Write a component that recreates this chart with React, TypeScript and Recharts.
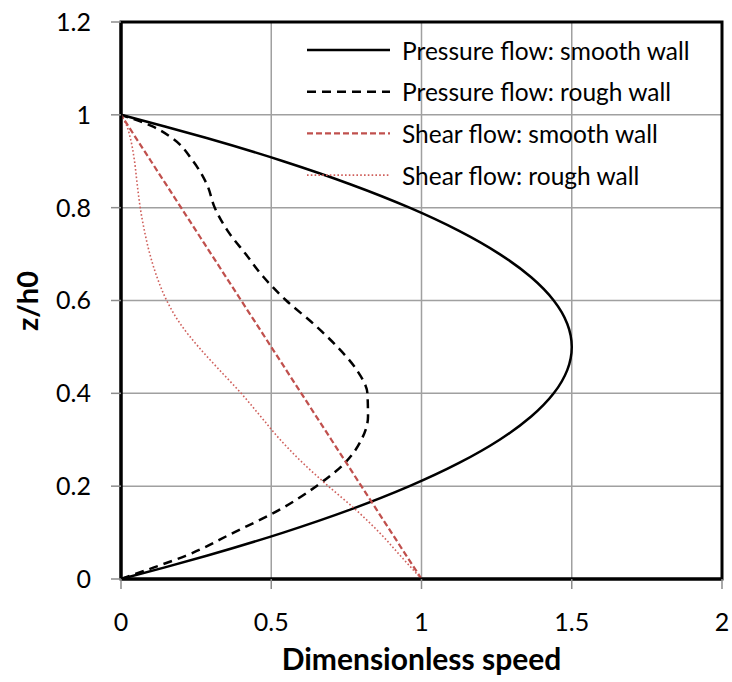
import React from 'react';
import { LineChart, Line, XAxis, YAxis, CartesianGrid, Legend, ReferenceArea } from 'recharts';

// Height ratio z/h0 (shared sampling levels)
const Z_LEVELS = [0, 0.025, 0.05, 0.1, 0.15, 0.2, 0.25, 0.3, 0.35, 0.4, 0.45, 0.5, 0.55, 0.6, 0.65, 0.7, 0.75, 0.8, 0.85, 0.9, 0.95, 0.975, 1];

// Dimensionless speed for each series, read at the levels above
const PRESSURE_SMOOTH = [0, 0.146, 0.285, 0.54, 0.765, 0.96, 1.125, 1.26, 1.365, 1.44, 1.485, 1.5, 1.485, 1.44, 1.365, 1.26, 1.125, 0.96, 0.765, 0.54, 0.285, 0.146, 0];
const PRESSURE_ROUGH = [0, 0.11, 0.215, 0.375, 0.53, 0.65, 0.745, 0.8, 0.822, 0.82, 0.785, 0.72, 0.64, 0.55, 0.475, 0.415, 0.355, 0.312, 0.286, 0.24, 0.17, 0.105, 0];
const SHEAR_SMOOTH = [1, 0.975, 0.95, 0.9, 0.85, 0.8, 0.75, 0.7, 0.65, 0.6, 0.55, 0.5, 0.45, 0.4, 0.35, 0.3, 0.25, 0.2, 0.15, 0.1, 0.05, 0.025, 0];
const SHEAR_ROUGH = [1, 0.965, 0.93, 0.86, 0.78, 0.69, 0.605, 0.53, 0.465, 0.4, 0.328, 0.258, 0.197, 0.152, 0.12, 0.096, 0.078, 0.064, 0.054, 0.045, 0.031, 0.02, 0];

const X_TICKS = [0, 0.5, 1, 1.5, 2];
const Y_TICKS = [0, 0.2, 0.4, 0.6, 0.8, 1, 1.2];

const SERIES = [
  { key: 'ps', name: 'Pressure flow: smooth wall', color: '#000000', width: 2.5, dash: undefined as string | undefined },
  { key: 'pr', name: 'Pressure flow: rough wall', color: '#000000', width: 2.5, dash: '9 6' },
  { key: 'ss', name: 'Shear flow: smooth wall', color: '#c0504d', width: 2.25, dash: '6 3' },
  { key: 'sr', name: 'Shear flow: rough wall', color: '#cf5f5b', width: 1.6, dash: '1.6 2.2' },
];

const data = Z_LEVELS.map((z, i) => ({
  z,
  ps: PRESSURE_SMOOTH[i],
  pr: PRESSURE_ROUGH[i],
  ss: SHEAR_SMOOTH[i],
  sr: SHEAR_ROUGH[i],
}));

const FONT = 'Lato, "Open Sans", sans-serif';

const renderLegend = () => (
  <svg width={420} height={170} style={{ display: 'block' }}>
    {SERIES.map((s, i) => {
      const cy = 20 + i * 41.7;
      return (
        <g key={s.key}>
          <line x1={7} x2={90} y1={cy} y2={cy} stroke={s.color} strokeWidth={s.width} strokeDasharray={s.dash} />
          <text x={102} y={cy} dominantBaseline="central" fontFamily={FONT} fontSize={24.5} fill="#000">
            {s.name}
          </text>
        </g>
      );
    })}
  </svg>
);

const YTitle = () => {
  const cx = 26;
  const cy = 301;
  return (
    <text
      x={cx}
      y={cy}
      transform={`rotate(-90, ${cx}, ${cy})`}
      textAnchor="middle"
      dominantBaseline="central"
      fontFamily={FONT}
      fontWeight="bold"
      fontSize={29}
      fill="#000"
    >
      z/h0
    </text>
  );
};

export default function App() {
  return (
    <div style={{ position: 'absolute', left: 0, top: 0, width: 732, height: 682, background: '#fff' }}>
      <LineChart
        width={732}
        height={682}
        data={data}
        layout="vertical"
        margin={{ top: 22, right: 10, left: 0, bottom: 0 }}
      >
        <CartesianGrid stroke="#a0a0a0" strokeWidth={1.5} verticalValues={X_TICKS} horizontalValues={Y_TICKS} />
        <XAxis
          type="number"
          domain={[0, 2]}
          ticks={X_TICKS}
          height={103}
          tickSize={10}
          tickMargin={24}
          axisLine={{ stroke: '#000', strokeWidth: 3 }}
          tickLine={{ stroke: '#8c8c8c', strokeWidth: 1.5 }}
          tick={{ fontSize: 25, fill: '#000', fontFamily: FONT }}
          label={{ value: 'Dimensionless speed', position: 'insideBottom', offset: 12, fontSize: 30, fontWeight: 'bold', fill: '#000', fontFamily: FONT }}
        />
        <YAxis
          type="number"
          dataKey="z"
          domain={[0, 1.2]}
          ticks={Y_TICKS}
          reversed
          width={121}
          tickSize={10}
          tickMargin={20}
          axisLine={{ stroke: '#000', strokeWidth: 3 }}
          tickLine={{ stroke: '#8c8c8c', strokeWidth: 1.5 }}
          tick={{ fontSize: 25, fill: '#000', fontFamily: FONT }}
          label={<YTitle />}
        />
        <ReferenceArea x1={0} x2={2} y1={0} y2={1.2} fill="none" stroke="#000" strokeWidth={3} ifOverflow="visible" />
        {SERIES.map((s) => (
          <Line
            key={s.key}
            type="monotone"
            dataKey={s.key}
            name={s.name}
            stroke={s.color}
            strokeWidth={s.width}
            strokeDasharray={s.dash}
            dot={false}
            activeDot={false}
            isAnimationActive={false}
          />
        ))}
        <Legend
          layout="vertical"
          align="center"
          verticalAlign="middle"
          content={renderLegend}
          wrapperStyle={{ position: 'absolute', left: 300, top: 30, width: 420, height: 170 }}
        />
      </LineChart>
    </div>
  );
}
